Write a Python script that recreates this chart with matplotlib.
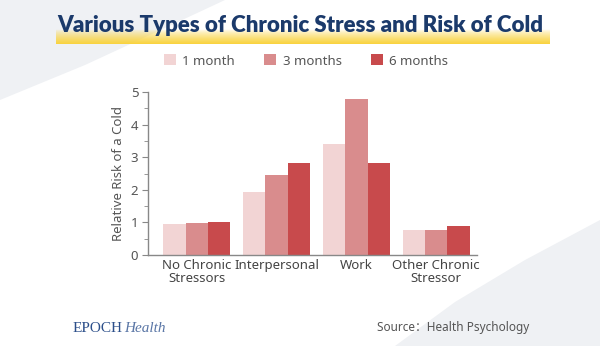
import matplotlib
matplotlib.use("Agg")
import matplotlib.pyplot as plt
from matplotlib.patches import Polygon
from matplotlib.ticker import MultipleLocator
import numpy as np

# données
categories = ["No Chronic\nStressors", "Interpersonal", "Work", "Other Chronic\nStressor"]
series_names = ["1 month", "3 months", "6 months"]
one_month = [0.96, 1.93, 3.4, 0.78]
three_months = [0.98, 2.46, 4.77, 0.78]
six_months = [1.0, 2.83, 2.83, 0.9]
colors = ["#f2d4d4", "#d98c8d", "#c84a4c"]

plt.rcParams["font.family"] = ["Noto Sans", "Noto Sans CJK SC", "DejaVu Sans"]

W, H = 600, 346
fig = plt.figure(figsize=(6, 3.46), dpi=100)
fig.patch.set_facecolor("white")

def fx(px):
    return px / W

def fy(py):
    return 1 - py / H

# formes grises de fond
tl = [(0, 0), (225, 0), (165, 28), (85, 65), (0, 100)]
br = [(395, 346), (600, 346), (600, 220), (525, 260), (455, 302)]
for pts in (tl, br):
    fig.patches.append(Polygon([(fx(x), fy(y)) for x, y in pts], closed=True,
                               transform=fig.transFigure, facecolor="#eff1f4",
                               edgecolor="none", zorder=-5))

# surlignage jaune du titre
hl = fig.add_axes([fx(56), fy(44), fx(550) - fx(56), 15 / H])
grad = np.zeros((20, 2, 4))
grad[..., 0] = 0.98
grad[..., 1] = 0.83
grad[..., 2] = 0.25
grad[..., 3] = np.linspace(0.0, 1.0, 20)[:, None] ** 0.7
hl.imshow(grad, aspect="auto", extent=[0, 1, 0, 1])
hl.axis("off")

fig.text(0.5, fy(26), "Various Types of Chronic Stress and Risk of Cold",
         ha="center", va="center", fontsize=16, fontweight="heavy",
         color="#1b3a6b", family=["Lato", "Noto Sans"])

# graphique principal
ax = fig.add_axes([fx(148), fy(255), fx(477) - fx(148), (255 - 92) / H])
ax.set_facecolor("none")
x = np.arange(len(categories))
w = 0.28
bars = []
for i, (vals, c) in enumerate(zip([one_month, three_months, six_months], colors)):
    bars.append(ax.bar(x + (i - 1) * w, vals, width=w, color=c, label=series_names[i]))

ax.set_xlim(-0.61, 3.51)
ax.set_ylim(0, 5)
ax.yaxis.set_major_locator(MultipleLocator(1))
ax.yaxis.set_minor_locator(MultipleLocator(0.5))
ax.set_xticks(x)
ax.set_xticklabels(categories, fontsize=9.5, color="#444444", linespacing=1.0)
ax.tick_params(axis="x", length=0, pad=3)
ax.tick_params(axis="y", which="major", length=4, color="#888888", labelsize=9.5,
               labelcolor="#555555", pad=3)
ax.tick_params(axis="y", which="minor", length=3, color="#888888")
for s in ("top", "right"):
    ax.spines[s].set_visible(False)
for s in ("left", "bottom"):
    ax.spines[s].set_color("#888888")
    ax.spines[s].set_linewidth(1)
ax.set_ylabel("Relative Risk of a Cold", fontsize=9.5, color="#555555", labelpad=4)

fig.legend(handles=bars, labels=series_names, loc="center", ncol=3,
           bbox_to_anchor=(fx(306), fy(61)), frameon=False, fontsize=9.5,
           handlelength=0.9, handleheight=0.9, handletextpad=0.5,
           columnspacing=2.2, labelcolor="#555555")

# pied de page
fig.text(fx(73), fy(328), "EPOCH", ha="left", va="center", fontsize=11,
         color="#2c4f8a", family="Liberation Serif")
fig.text(fx(124), fy(328), "Health", ha="left", va="center", fontsize=11,
         color="#5a76a6", family="Liberation Serif", style="italic")
fig.text(fx(377), fy(328), "Source\uff1aHealth Psychology", ha="left", va="center",
         fontsize=8.5, color="#555555")

fig.savefig("out.png", dpi=100)
